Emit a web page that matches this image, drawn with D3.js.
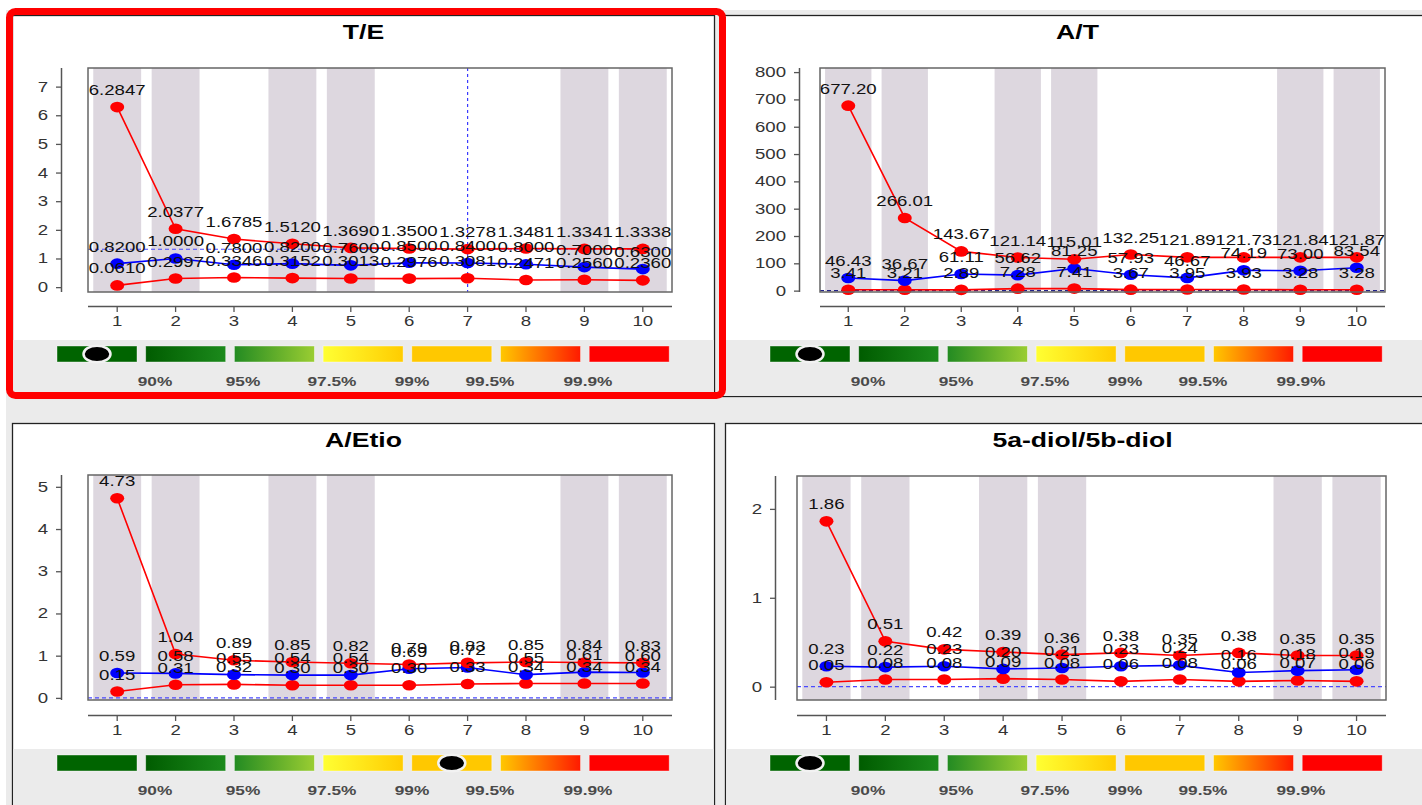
<!DOCTYPE html>
<html><head><meta charset="utf-8">
<script src="https://cdn.jsdelivr.net/npm/d3@7"></script>
<style>html,body{margin:0;padding:0;background:#fff;overflow:hidden}svg{display:block;font-family:"Liberation Sans",Arial,sans-serif}</style>
</head><body><svg id="c" width="1422" height="805"></svg>
<script>
// ---------- data ----------
const titles = ["T/E", "A/T", "A/Etio", "5a-diol/5b-diol"];
const xLabels = ["1","2","3","4","5","6","7","8","9","10"];
const shadedCols = ["1","2","4","5","9","10"];

const teUpper = [6.2847,2.0377,1.6785,1.5120,1.3690,1.3500,1.3278,1.3481,1.3341,1.3338];
const teMid   = [0.8200,1.0000,0.7800,0.8200,0.7600,0.8500,0.8400,0.8000,0.7000,0.6300];
const teLower = [0.0610,0.2997,0.3346,0.3152,0.3013,0.2976,0.3081,0.2471,0.2560,0.2360];

const atUpper = [677.20,266.01,143.67,121.14,115.01,132.25,121.89,121.73,121.84,121.87];
const atMid   = [46.43,36.67,61.11,56.62,81.25,57.93,46.67,74.19,73.00,83.54];
const atLower = [3.41,3.21,2.89,7.28,7.41,3.67,3.95,3.93,3.28,3.28];

const aeUpper = [4.73,1.04,0.89,0.85,0.82,0.79,0.83,0.85,0.84,0.83];
const aeMid   = [0.59,0.58,0.55,0.54,0.54,0.69,0.72,0.55,0.61,0.60];
const aeLower = [0.15,0.31,0.32,0.30,0.30,0.30,0.33,0.34,0.34,0.34];

const ddUpper = [1.86,0.51,0.42,0.39,0.36,0.38,0.35,0.38,0.35,0.35];
const ddMid   = [0.23,0.22,0.23,0.20,0.21,0.23,0.24,0.16,0.18,0.19];
const ddLower = [0.05,0.08,0.08,0.09,0.08,0.06,0.08,0.06,0.07,0.06];

const teTicks = [0,1,2,3,4,5,6,7];
const atTicks = [0,100,200,300,400,500,600,700,800];
const aeTicks = [0,1,2,3,4,5];
const ddTicks = [0,1,2];

const teDomain = [-0.17, 7.65];
const atDomain = [-5, 815];
const aeDomain = [-0.05, 5.28];
const ddDomain = [-0.15, 2.37];

const decimals = [4, 2, 2, 2];
const hRefValues = [1.32, 0, 0, 0];      // dashed horizontal reference
const vRefCats = ["7", null, null, null]; // dashed vertical reference

const legendLabels = ["90%","95%","97.5%","99%","99.5%","99.9%"];
const markerBar = [0, 0, 4, 0];

// ---------- layout ----------
const SX = 1.33; // horizontal stretch of the original rendering
const L = [
  {px:12.5, py:15.5, pw:702, ph:381, rx0:88,  rx1:672,  ry0:68,  ry1:292, yAx:62,  xAx:306, legY:340, legX:57},
  {px:720.5,py:15.5, pw:712, ph:381, rx0:820, rx1:1385, ry0:68,  ry1:292, yAx:800, xAx:306, legY:340, legX:770},
  {px:12.5, py:423.5,pw:702, ph:392, rx0:88,  rx1:672,  ry0:475, ry1:700, yAx:62,  xAx:715, legY:749, legX:57},
  {px:725.5,py:423.5,pw:712, ph:392, rx0:797, rx1:1386, ry0:476, ry1:700, yAx:776, xAx:715, legY:749, legX:770}
];
const series = [[teUpper,teMid,teLower],[atUpper,atMid,atLower],[aeUpper,aeMid,aeLower],[ddUpper,ddMid,ddLower]];
const ticks = [teTicks, atTicks, aeTicks, ddTicks];
const domains = [teDomain, atDomain, aeDomain, ddDomain];

const svg = d3.select("#c");
svg.append("rect").attr("width",1422).attr("height",805).attr("fill","#fff");
svg.append("rect").attr("x",6).attr("y",10).attr("width",1416).attr("height",795).attr("fill","#ebebeb");

const defs = svg.append("defs");
const grads = [
  ["g0","#006400","#006400"],
  ["g1","#005c00","#1c8a1c"],
  ["g2","#238b22","#9acd32"],
  ["g3","#ffff33","#ffcc00"],
  ["g4","#ffc800","#ffc800"],
  ["g5","#ffc800","#ff1a00"],
  ["g6","#ff0000","#ff0000"]
];
grads.forEach(([id,a,b])=>{
  const g = defs.append("linearGradient").attr("id",id).attr("x1","0%").attr("x2","100%");
  g.append("stop").attr("offset","0%").attr("stop-color",a);
  g.append("stop").attr("offset","100%").attr("stop-color",b);
});

function stext(g, x, y, s, size, opts={}) {
  return g.append("text")
    .attr("transform", `translate(${x},${y}) scale(${SX},1)`)
    .attr("text-anchor", opts.anchor || "middle")
    .attr("font-size", size)
    .attr("font-weight", opts.weight || "normal")
    .attr("fill", opts.fill || "#111")
    .text(s);
}

titles.forEach((title, p) => {
  const l = L[p];
  const g = svg.append("g");
  // panel
  g.append("rect").attr("x",l.px).attr("y",l.py).attr("width",l.pw).attr("height",l.ph)
    .attr("fill","#fff").attr("stroke","#222").attr("stroke-width",1.3);
  g.append("rect").attr("x",l.px+0.7).attr("y",l.legY).attr("width",l.pw-1.4).attr("height",l.py+l.ph-l.legY-0.7)
    .attr("fill","#ebebeb");
  stext(g, l.px + l.pw/2 + (p%2 ? 1 : 0), l.py + 23, title, 20, {weight:"bold", fill:"#000"});

  const x = d3.scaleBand().domain(xLabels).range([l.rx0, l.rx1]).paddingInner(0.18).paddingOuter(0.09);
  const cx = d => x(d) + x.bandwidth()/2;
  const y = d3.scaleLinear().domain(domains[p]).range([l.ry1, l.ry0]);

  // plot bg + bands
  g.append("rect").attr("x",l.rx0).attr("y",l.ry0).attr("width",l.rx1-l.rx0).attr("height",l.ry1-l.ry0).attr("fill","#fff");
  g.selectAll(".band").data(shadedCols).join("rect")
    .attr("x", d => x(d)).attr("y", l.ry0).attr("width", x.bandwidth()).attr("height", l.ry1-l.ry0)
    .attr("fill","#ddd7df");

  // reference lines
  g.append("line").attr("x1",l.rx0).attr("x2",l.rx1).attr("y1",y(hRefValues[p])).attr("y2",y(hRefValues[p]))
    .attr("stroke", p===1 ? "#222288" : "#4a4aff").attr("stroke-width",1.1).attr("stroke-dasharray","4,3");
  if (vRefCats[p]) {
    g.append("line").attr("x1",cx(vRefCats[p])).attr("x2",cx(vRefCats[p])).attr("y1",l.ry0).attr("y2",l.ry1)
      .attr("stroke","#3a3aff").attr("stroke-width",1.2).attr("stroke-dasharray","3,3");
  }

  const [up, mid, low] = series[p];
  const line = d3.line().x((d,i)=>cx(xLabels[i])).y(d=>y(d));
  const drawOrder = [[low,"#ff0000"],[mid,"#0000ff"],[up,"#ff0000"]];
  drawOrder.forEach(([arr,col])=>{
    g.append("path").attr("d", line(arr)).attr("fill","none").attr("stroke",col).attr("stroke-width",1.6);
  });
  drawOrder.forEach(([arr,col])=>{
    g.selectAll(null).data(arr).join("ellipse")
      .attr("cx",(d,i)=>cx(xLabels[i])).attr("cy",d=>y(d)).attr("rx",7).attr("ry",5.3).attr("fill",col);
  });

  // labels (clipped to plot area)
  const cid = "clip"+p;
  defs.append("clipPath").attr("id",cid).append("rect")
    .attr("x",l.rx0).attr("y",l.ry0).attr("width",l.rx1-l.rx0).attr("height",l.ry1-l.ry0);
  const lg = g.append("g").attr("clip-path",`url(#${cid})`);
  [up, mid, low].forEach(arr=>{
    arr.forEach((v,i)=>{
      stext(lg, cx(xLabels[i]), y(v) - 12, v.toFixed(decimals[p]), 14, {fill:"#111"});
    });
  });

  // plot frame
  g.append("rect").attr("x",l.rx0).attr("y",l.ry0).attr("width",l.rx1-l.rx0).attr("height",l.ry1-l.ry0)
    .attr("fill","none").attr("stroke","#666").attr("stroke-width",1.5);

  // axes
  const ya = g.append("g").attr("transform",`translate(${l.yAx},0)`)
    .call(d3.axisLeft(y).tickValues(ticks[p]).tickSize(6).tickSizeOuter(0).tickPadding(8).tickFormat(d3.format("d")));
  ya.select(".domain").attr("stroke","#555").attr("stroke-width",1.5).attr("d", `M-0.5,${l.ry0}V${l.ry1}`);
  ya.selectAll(".tick line").attr("stroke","#555").attr("stroke-width",1.3);
  ya.selectAll(".tick text").attr("font-size",14).attr("fill","#333").attr("font-family",null)
    .attr("x",-14/SX).attr("transform",`scale(${SX},1)`);

  const xa = g.append("g").attr("transform",`translate(0,${l.xAx})`)
    .call(d3.axisBottom(x).tickSize(6).tickSizeOuter(0).tickPadding(4));
  xa.select(".domain").attr("stroke","#555").attr("stroke-width",1.5).attr("d",`M${l.rx0},0.5H${l.rx1}`);
  xa.selectAll(".tick line").attr("stroke","#555").attr("stroke-width",1.3);
  xa.selectAll(".tick text").attr("font-size",14).attr("fill","#333").attr("font-family",null)
    .attr("transform",`scale(${SX},1)`);

  // legend
  const step = 88.7;
  grads.forEach((gr,i)=>{
    g.append("rect").attr("x",l.legX + i*step).attr("y",l.legY+6).attr("width",80).attr("height",16)
      .attr("fill",`url(#${gr[0]})`).attr("stroke","rgba(255,255,255,0.5)").attr("stroke-width",0.8);
  });
  const labOff = [98,186,275,355,433,531];
  legendLabels.forEach((s,i)=>{
    stext(g, l.legX + labOff[i], l.legY + 46, s, 13, {weight:"bold", fill:"#4a4a4a"});
  });
  g.append("ellipse").attr("cx", l.legX + markerBar[p]*step + 40).attr("cy", l.legY + 14)
    .attr("rx",13.5).attr("ry",8.3).attr("fill","#000").attr("stroke","#f2f2f2").attr("stroke-width",2.5);
});

// selection frame
svg.append("rect").attr("x",9.5).attr("y",11.5).attr("width",713).attr("height",384).attr("rx",6)
  .attr("fill","none").attr("stroke","#ff0000").attr("stroke-width",7);
</script></body></html>
